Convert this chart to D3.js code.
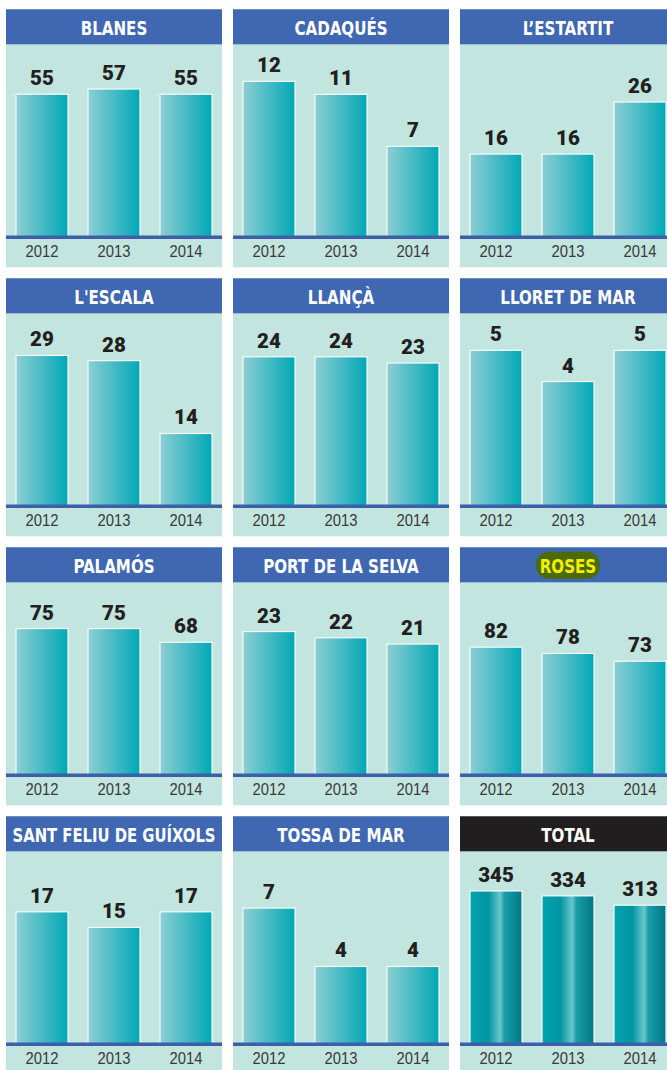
<!DOCTYPE html>
<html>
<head>
<meta charset="utf-8">
<script src="https://cdn.jsdelivr.net/npm/d3@7"></script>
<style>
  body { margin: 0; background: #fff; }
  svg { display: block; }
</style>
</head>
<body>
<svg id="chart"></svg>
<script>
// data
const towns = ["BLANES", "CADAQUÉS", "L’ESTARTIT", "L'ESCALA", "LLANÇÀ", "LLORET DE MAR",
  "PALAMÓS", "PORT DE LA SELVA", "ROSES", "SANT FELIU DE GUÍXOLS", "TOSSA DE MAR", "TOTAL"];
const years = ["2012", "2013", "2014"];
const values = [
  [55, 57, 55], [12, 11, 7], [16, 16, 26],
  [29, 28, 14], [24, 24, 23], [5, 4, 5],
  [75, 75, 68], [23, 22, 21], [82, 78, 73],
  [17, 15, 17], [7, 4, 4], [345, 334, 313]
];
// each small chart has its own y domain top
const scaleMax = [69.2, 13.85, 34.6, 34.6, 28.9, 5.77, 92, 28.8, 115.2, 23.1, 9.25, 405];
const highlight = "ROSES";
const totalName = "TOTAL";

const width = 667, height = 1070;
const cols = 3;
const panelW = 216, panelH = 258, colStep = 227, rowStep = 269;
const x0 = 6, y0 = 9.3;
const headerH = 35, baseOffset = 228, plotH = 180;
const condensed = "'DejaVu Sans Condensed', 'Liberation Sans Narrow', sans-serif";

const svg = d3.select("#chart").attr("width", width).attr("height", height);

const defs = svg.append("defs");
const g1 = defs.append("linearGradient").attr("id", "barGrad");
g1.append("stop").attr("offset", "0%").attr("stop-color", "#8dced4");
g1.append("stop").attr("offset", "100%").attr("stop-color", "#00a8b6");

const g2 = defs.append("linearGradient").attr("id", "totalGrad");
[["0%", "#00a4b0"], ["35%", "#0095a2"], ["52%", "#4fb8c0"], ["58%", "#6cc6cc"],
 ["66%", "#1a9ea9"], ["100%", "#007684"]].forEach(s =>
  g2.append("stop").attr("offset", s[0]).attr("stop-color", s[1]));

const xScale = d3.scaleBand()
  .domain(years)
  .range([0, panelW])
  .paddingInner(20 / 72)
  .paddingOuter(10 / 72);

towns.forEach((town, i) => {
  const col = i % cols, row = Math.floor(i / cols);
  const px = x0 + col * colStep, py = y0 + row * rowStep;
  const isTotal = town === totalName;
  const base = baseOffset;

  const panel = svg.append("g").attr("transform", `translate(${px},${py})`);

  panel.append("rect")
    .attr("width", panelW).attr("height", panelH)
    .attr("fill", "#c3e5e0");

  panel.append("rect")
    .attr("width", panelW).attr("height", headerH)
    .attr("fill", isTotal ? "#221e1f" : "#3f67b2");

  if (town === highlight) {
    panel.append("rect")
      .attr("x", panelW / 2 - 32).attr("y", 4.5)
      .attr("width", 64).attr("height", 27)
      .attr("rx", 13)
      .attr("fill", "#4c6a05");
  }

  // headline font is narrower in the print original, squeeze it a bit
  const title = panel.append("text")
    .attr("x", panelW / 2).attr("y", 25.5)
    .attr("text-anchor", "middle")
    .attr("font-family", condensed)
    .attr("font-weight", "bold")
    .attr("font-size", 19.5)
    .attr("fill", town === highlight ? "#f2f000" : "#fff")
    .text(town);
  const tw = Math.min(title.node().getComputedTextLength() * 0.86, 203);
  title.attr("textLength", tw).attr("lengthAdjust", "spacingAndGlyphs");

  const yScale = d3.scaleLinear()
    .domain([0, scaleMax[i]])
    .range([base, base - plotH]);

  const data = values[i].map((v, j) => ({ year: years[j], value: v }));

  panel.selectAll(".bar")
    .data(data)
    .join("rect")
    .attr("class", "bar")
    .attr("x", d => xScale(d.year))
    .attr("y", d => yScale(d.value))
    .attr("width", xScale.bandwidth())
    .attr("height", d => base - yScale(d.value))
    .attr("fill", isTotal ? "url(#totalGrad)" : "url(#barGrad)")
    .attr("stroke", "#f4fbfa")
    .attr("stroke-width", 1.2);

  panel.selectAll(".val")
    .data(data)
    .join("text")
    .attr("class", "val")
    .attr("x", d => xScale(d.year) + xScale.bandwidth() / 2)
    .attr("y", d => yScale(d.value) - 9)
    .attr("text-anchor", "middle")
    .attr("font-family", "Roboto, sans-serif")
    .attr("font-weight", 900)
    .attr("font-size", 20.5)
    .attr("fill", "#231f20")
    .text(d => d.value);

  // axis line
  panel.append("line")
    .attr("x1", 0).attr("x2", panelW)
    .attr("y1", base).attr("y2", base)
    .attr("stroke", "#3d5fa9")
    .attr("stroke-width", 3.5);

  const xAxis = panel.append("g")
    .attr("transform", `translate(0,${base})`)
    .call(d3.axisBottom(xScale).tickSize(0).tickPadding(0));
  xAxis.select(".domain").remove();
  xAxis.selectAll("text")
    .attr("dy", null)
    .attr("y", 20)
    .attr("font-family", "'Liberation Sans', Arial, sans-serif")
    .attr("font-size", 16.5)
    .attr("textLength", 33)
    .attr("lengthAdjust", "spacingAndGlyphs")
    .attr("fill", "#3a3a3a");
});
</script>
</body>
</html>
